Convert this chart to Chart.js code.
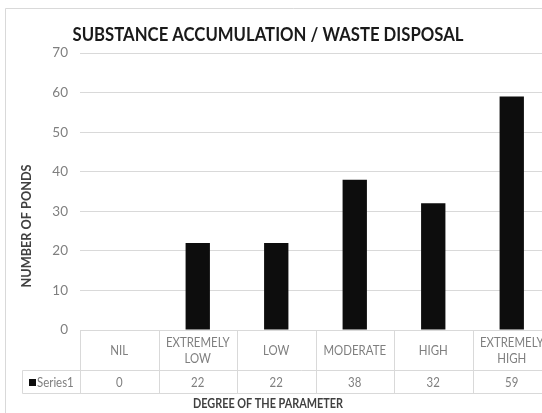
<!DOCTYPE html>
<html>
<head>
<meta charset="utf-8">
<script src="https://cdn.jsdelivr.net/npm/chart.js@4"></script>
<style>
  html, body { margin: 0; padding: 0; background: #fff; overflow: hidden; width: 542px; height: 413px; }
  canvas { display: block; }
</style>
</head>
<body>
<canvas id="c" width="580" height="413"></canvas>
<script>
const chartTitle = 'SUBSTANCE ACCUMULATION / WASTE DISPOSAL';
const xAxisTitle = 'DEGREE OF THE PARAMETER';
const yAxisTitle = 'NUMBER OF PONDS';
const categories = ['NIL', 'EXTREMELY LOW', 'LOW', 'MODERATE', 'HIGH', 'EXTREMELY HIGH'];
const seriesName = 'Series1';
const series1 = [0, 22, 22, 38, 32, 59];
const yMin = 0, yMax = 70, yStep = 10;

const FONT = 'Lato, "Open Sans", sans-serif';
const GRID = '#d9d9d9';
const TXT = '#7f7f7f';

function wrapLabel(ctx, text, maxW) {
  if (ctx.measureText(text).width <= maxW || text.indexOf(' ') < 0) return [text];
  const i = text.indexOf(' ');
  return [text.slice(0, i), text.slice(i + 1)];
}

// draw text horizontally condensed by factor sx (text stays real text)
function fillScaled(ctx, text, x, y, sx) {
  ctx.save();
  ctx.translate(x, y);
  ctx.scale(sx, 1);
  ctx.fillText(text, 0, 0);
  ctx.restore();
}
function fillToWidth(ctx, text, x, y, w) {
  const mw = ctx.measureText(text).width;
  fillScaled(ctx, text, x, y, w / mw);
}

const decor = {
  id: 'decor',
  beforeDraw(chart) {
    const ctx = chart.ctx;
    ctx.save();
    ctx.fillStyle = '#fff';
    ctx.fillRect(0, 0, chart.width, chart.height);
    ctx.strokeStyle = GRID;
    ctx.lineWidth = 1;
    ctx.beginPath();
    ctx.moveTo(5.5, chart.height + 5);
    ctx.lineTo(5.5, 8.5);
    ctx.lineTo(chart.width + 5, 8.5);
    ctx.stroke();
    ctx.restore();
  },
  afterDraw(chart) {
    const ctx = chart.ctx;
    const x = chart.scales.x;
    const area = chart.chartArea;
    const half = (x.getPixelForValue(1) - x.getPixelForValue(0)) / 2;
    const top = Math.round(area.bottom) + 0.5;
    const mid = top + 40;
    const bot = mid + 23;
    const legendLeft = 22.5;
    const right = chart.width + 5;
    const SX = 0.88;
    ctx.save();
    ctx.strokeStyle = GRID;
    ctx.lineWidth = 1;
    ctx.beginPath();
    ctx.moveTo(area.left, top); ctx.lineTo(right, top);
    ctx.moveTo(legendLeft, mid); ctx.lineTo(right, mid);
    ctx.moveTo(legendLeft, bot); ctx.lineTo(right, bot);
    ctx.moveTo(legendLeft, mid); ctx.lineTo(legendLeft, bot);
    for (let i = 0; i <= categories.length; i++) {
      const px = Math.round(x.getPixelForValue(0) - half + i * 2 * half) + 0.5;
      ctx.moveTo(px, top); ctx.lineTo(px, bot);
    }
    ctx.stroke();

    // category labels and values
    ctx.fillStyle = TXT;
    ctx.font = '13px ' + FONT;
    ctx.textAlign = 'center';
    ctx.textBaseline = 'middle';
    categories.forEach((c, i) => {
      const cx = x.getPixelForValue(i);
      const lines = wrapLabel(ctx, c, (2 * half - 8) / SX);
      const lh = 16;
      const y0 = (top + mid) / 2 - (lines.length - 1) * lh / 2;
      lines.forEach((l, k) => fillScaled(ctx, l, cx, y0 + k * lh, SX));
      fillScaled(ctx, String(series1[i]), cx, (mid + bot) / 2 + 1, SX);
    });
    // legend key
    ctx.fillStyle = '#0d0d0d';
    ctx.fillRect(29, (mid + bot) / 2 - 3, 7, 7);
    ctx.fillStyle = TXT;
    ctx.textAlign = 'left';
    fillScaled(ctx, seriesName, 37, (mid + bot) / 2 + 1, SX);

    // titles
    ctx.fillStyle = '#1a1a1a';
    ctx.textAlign = 'center';
    ctx.font = 'bold 18.5px ' + FONT;
    fillToWidth(ctx, chartTitle, 268, 35, 391);
    ctx.fillStyle = '#404040';
    ctx.font = 'bold 12.5px ' + FONT;
    fillToWidth(ctx, xAxisTitle, 268, 404, 150);
    ctx.translate(27, 226);
    ctx.rotate(-Math.PI / 2);
    fillToWidth(ctx, yAxisTitle, 0, 0, 123);
    ctx.restore();
  }
};

new Chart(document.getElementById('c'), {
  type: 'bar',
  data: {
    labels: categories,
    datasets: [{
      label: seriesName,
      data: series1,
      backgroundColor: '#0d0d0d',
      borderWidth: 0,
      barPercentage: 0.31,
      categoryPercentage: 1
    }]
  },
  options: {
    responsive: false,
    animation: false,
    devicePixelRatio: 1,
    layout: { padding: { left: 0, top: 53, right: 29, bottom: 83 } },
    plugins: { legend: { display: false }, tooltip: { enabled: false }, title: { display: false } },
    scales: {
      x: { display: false },
      y: {
        min: yMin, max: yMax,
        afterFit(s) { s.width = 80; },
        ticks: { stepSize: yStep, padding: 12, color: TXT, font: { family: FONT, size: 13.5 } },
        grid: { color: GRID, drawTicks: false },
        border: { display: false }
      }
    }
  },
  plugins: [decor]
});
</script>
</body>
</html>
